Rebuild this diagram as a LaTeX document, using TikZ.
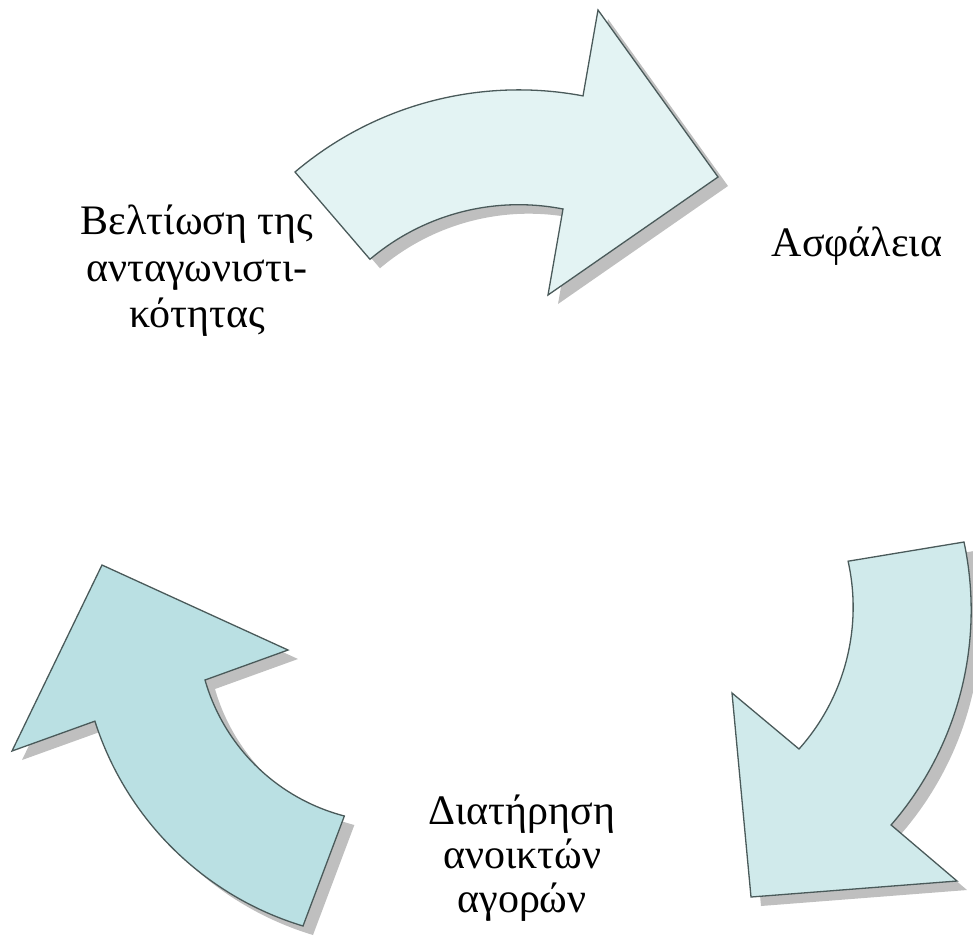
\documentclass[tikz,border=0pt]{standalone}
\usepackage{fontspec}
\setmainfont{Liberation Serif}
\usetikzlibrary{shadows}

\definecolor{arrowTop}{HTML}{E3F3F3}
\definecolor{arrowRight}{HTML}{D0EAEB}
\definecolor{arrowLeft}{HTML}{BAE0E3}
\definecolor{arrowLine}{HTML}{4A5A5A}

\newcommand*{\picW}{973}
\newcommand*{\picH}{938}

\tikzset{
    cyclearrow/.style={draw=arrowLine, line width=1.3pt, line join=miter,
        drop shadow={shadow xshift=10pt, shadow yshift=-9pt, fill=black!25, opacity=1}},
    cycletext/.style={align=center, inner sep=0pt}
}

\begin{document}
\begin{tikzpicture}[x=1pt, y=1pt]
    \useasboundingbox (0,0) rectangle (\picW,-\picH);

    % top arrow
    \path [cyclearrow, fill=arrowTop] (295,-172) arc[start angle=130.3, end angle=79.3, radius=346]
        -- (598,-10) -- (718,-177) -- (548,-295)
        -- (563,-209) arc[start angle=78.9, end angle=130.3, radius=230] -- cycle;

    % right arrow
    \path [cyclearrow, fill=arrowRight] (964,-542) arc[start angle=12, end angle=-40.9, radius=328]
        -- (957,-881) -- (751,-897) -- (732,-693)
        -- (799,-749) arc[start angle=-41.8, end angle=12.5, radius=212.7] -- cycle;

    % left arrow
    \path [cyclearrow, fill=arrowLeft] (303,-926) arc[start angle=253.2, end angle=197.7, radius=313.6]
        -- (12,-751) -- (102,-565) -- (288,-650)
        -- (205,-680) arc[start angle=196.0, end angle=255.4, radius=196.5] -- cycle;

    % labels
    \node [cycletext, font=\fontsize{42}{46.5}\selectfont] (competition) at (197,-271)
        {Βελτίωση της\\ανταγωνιστι-\\κότητας};
    \node [cycletext, font=\fontsize{42}{46.5}\selectfont, anchor=base] (safety) at (857,-256)
        {Ασφάλεια};
    \node [cycletext, font=\fontsize{42}{44}\selectfont] (markets) at (522,-858)
        {Διατήρηση\\ανοικτών\\αγορών};
\end{tikzpicture}
\end{document}
